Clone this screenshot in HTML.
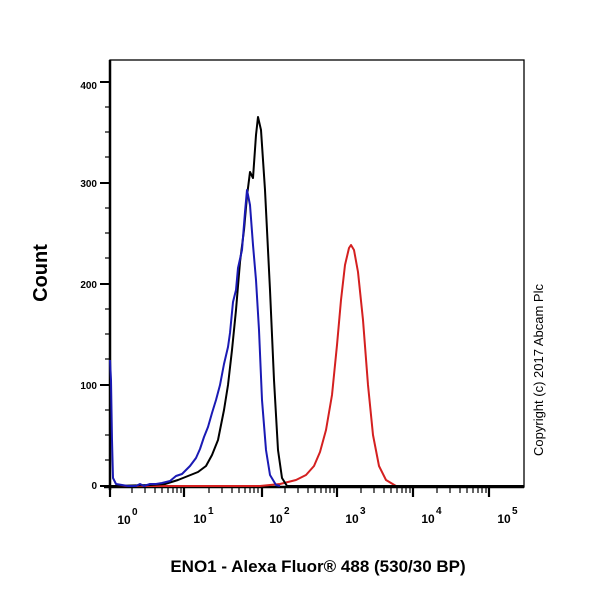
<!DOCTYPE html>
<html><head><style>body{margin:0;background:#fff}svg{display:block}</style></head><body>
<svg width="600" height="600" viewBox="0 0 600 600" font-family="Liberation Sans, Arial, sans-serif">
<rect x="0" y="0" width="600" height="600" fill="#fff"/>
<rect x="110" y="60" width="414" height="427" fill="none" stroke="#000" stroke-width="1.3"/>
<line x1="110" y1="60" x2="110" y2="490" stroke="#000" stroke-width="2.5"/>
<line x1="104" y1="487" x2="524" y2="487" stroke="#000" stroke-width="2.5"/>
<g stroke="#000" stroke-width="2">
<line x1="100" y1="486" x2="110" y2="486"/><line x1="100" y1="385" x2="110" y2="385"/><line x1="100" y1="284" x2="110" y2="284"/><line x1="100" y1="183" x2="110" y2="183"/><line x1="100" y1="82" x2="110" y2="82"/>
</g>
<g stroke="#000" stroke-width="1.2">
<line x1="105" y1="460" x2="110" y2="460"/><line x1="105" y1="435" x2="110" y2="435"/><line x1="105" y1="410" x2="110" y2="410"/>
<line x1="105" y1="359" x2="110" y2="359"/><line x1="105" y1="334" x2="110" y2="334"/><line x1="105" y1="309" x2="110" y2="309"/>
<line x1="105" y1="258" x2="110" y2="258"/><line x1="105" y1="233" x2="110" y2="233"/><line x1="105" y1="208" x2="110" y2="208"/>
<line x1="105" y1="157" x2="110" y2="157"/><line x1="105" y1="132" x2="110" y2="132"/><line x1="105" y1="107" x2="110" y2="107"/>
</g>
<g font-size="10" font-weight="bold" text-anchor="end" fill="#000">
<text x="97" y="489">0</text><text x="97" y="389">100</text><text x="97" y="288">200</text><text x="97" y="187">300</text><text x="97" y="89">400</text>
</g>
<g stroke="#000" stroke-width="2.2">
<line x1="110" y1="487" x2="110" y2="497"/><line x1="184" y1="487" x2="184" y2="497"/><line x1="262" y1="487" x2="262" y2="497"/><line x1="337" y1="487" x2="337" y2="497"/><line x1="413" y1="487" x2="413" y2="497"/><line x1="489" y1="487" x2="489" y2="497"/>
</g>
<g stroke="#000" stroke-width="1.2" id="minor">
<line x1="132" y1="487" x2="132" y2="493"/><line x1="145" y1="487" x2="145" y2="493"/><line x1="155" y1="487" x2="155" y2="493"/><line x1="162" y1="487" x2="162" y2="493"/><line x1="168" y1="487" x2="168" y2="493"/><line x1="173" y1="487" x2="173" y2="493"/><line x1="177" y1="487" x2="177" y2="493"/><line x1="181" y1="487" x2="181" y2="493"/>
</g>
<use href="#minor" x="77"/><use href="#minor" x="153"/><use href="#minor" x="229"/><use href="#minor" x="305"/>
<g font-size="12" font-weight="bold" fill="#000" text-anchor="middle">
<text x="124" y="524">10</text><text x="200" y="523">10</text><text x="276" y="523">10</text><text x="352" y="523">10</text><text x="428" y="523">10</text><text x="504" y="523">10</text>
</g>
<g font-size="10" font-weight="bold" fill="#000">
<text x="132" y="515">0</text><text x="208" y="514">1</text><text x="284" y="514">2</text><text x="360" y="514">3</text><text x="436" y="514">4</text><text x="512" y="514">5</text>
</g>
<polyline fill="none" stroke="#d42020" stroke-width="2" stroke-linejoin="round" points="110,486 260,486 280,484 296,480 306,475 314,466 320,452 326,430 332,395 337,345 341,300 345,265 349,248 351,245 354,250 358,272 363,320 368,385 373,435 379,466 386,480 396,486 524,486"/>
<polyline fill="none" stroke="#000" stroke-width="2" stroke-linejoin="round" points="110,486 115,486 150,485 165,484 178,480 188,476 198,472 206,466 212,455 218,440 224,410 228,385 232,350 236,310 240,262 244,230 247,196 250,172 253,178 256,135 258,117 261,130 265,190 270,290 274,380 278,450 282,478 287,486 524,486"/>
<polyline fill="none" stroke="#1a1ab4" stroke-width="2" stroke-linejoin="round" points="110,360 111,380 112,440 113,478 116,484 122,485 128,486 136,486 140,484 144,486 150,484 156,484 162,483 170,481 176,476 182,474 186,470 190,466 196,458 200,449 204,437 208,427 212,413 216,400 220,385 224,364 228,347 230,333 233,302 236,290 238,268 242,250 245,212 247,190 250,205 253,245 256,280 259,330 262,400 266,450 270,475 276,485 280,486"/>
<text transform="translate(47,273) rotate(-90)" font-size="20" font-weight="bold" text-anchor="middle" fill="#000">Count</text>
<text x="318" y="572" font-size="17" font-weight="bold" text-anchor="middle" fill="#000">ENO1 - Alexa Fluor® 488 (530/30 BP)</text>
<text transform="translate(543,370) rotate(-90)" font-size="13" text-anchor="middle" fill="#000">Copyright (c) 2017 Abcam Plc</text>
</svg>
</body></html>
